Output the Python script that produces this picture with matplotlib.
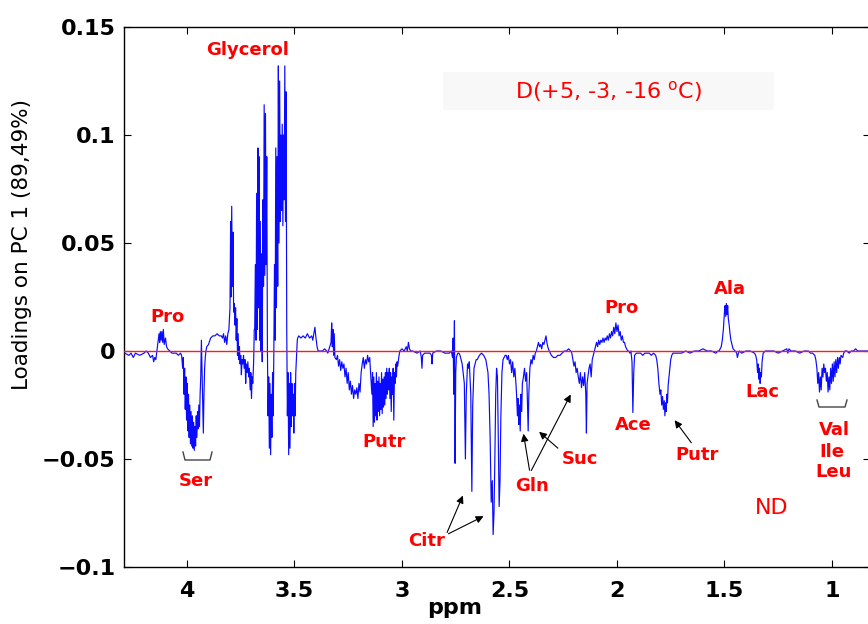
import matplotlib
matplotlib.use("Agg")
import matplotlib.pyplot as plt
from matplotlib.lines import Line2D
from matplotlib.patches import Rectangle, FancyArrowPatch

# ---------------- data (ppm, loading on PC1) ----------------
seg_baseline_pro = [(4.29, -0.001), (4.27, -0.002), (4.26, -0.001), (4.25, -0.003), (4.24, -0.001),
                    (4.22, -0.002), (4.20, -0.001), (4.19, 0.000), (4.18, -0.001), (4.17, -0.003),
                    (4.16, -0.002), (4.155, -0.005), (4.15, -0.003), (4.145, -0.004), (4.14, 0.000),
                    (4.135, 0.004), (4.13, 0.008), (4.127, 0.004), (4.124, 0.009), (4.12, 0.005),
                    (4.117, 0.009), (4.113, 0.004), (4.11, 0.010), (4.106, 0.003), (4.10, 0.006),
                    (4.095, 0.002), (4.09, 0.001), (4.08, 0.000), (4.07, -0.001), (4.06, -0.001),
                    (4.05, -0.001), (4.04, -0.002), (4.03, -0.001), (4.025, -0.002)]
seg_ser = [(4.02, -0.008), (4.017, -0.003), (4.014, -0.020), (4.011, -0.008), (4.008, -0.027),
           (4.005, -0.012), (4.002, -0.032), (3.999, -0.015), (3.996, -0.037), (3.993, -0.020),
           (3.990, -0.040), (3.987, -0.025), (3.984, -0.043), (3.981, -0.028), (3.978, -0.044),
           (3.975, -0.030), (3.972, -0.045), (3.969, -0.033), (3.966, -0.046), (3.963, -0.035),
           (3.960, -0.044), (3.957, -0.030), (3.954, -0.040), (3.951, -0.028), (3.948, -0.036),
           (3.945, -0.025), (3.942, -0.035), (3.939, -0.020), (3.936, -0.012), (3.933, 0.005),
           (3.930, -0.010), (3.927, -0.025), (3.924, -0.038), (3.921, -0.020), (3.918, -0.008),
           (3.915, -0.003), (3.912, 0.000), (3.908, 0.002)]
seg_plateau1 = [(3.90, 0.003), (3.89, 0.006), (3.88, 0.007), (3.87, 0.007), (3.86, 0.008),
                (3.85, 0.007), (3.84, 0.007), (3.835, 0.006), (3.83, 0.008), (3.825, 0.004),
                (3.82, 0.007), (3.815, 0.003), (3.81, 0.008), (3.805, 0.010)]
seg_379 = [(3.800, 0.020), (3.797, 0.060), (3.795, 0.025), (3.792, 0.067), (3.789, 0.030),
           (3.786, 0.055), (3.783, 0.018), (3.780, 0.022), (3.777, 0.012), (3.774, 0.020),
           (3.771, 0.005), (3.768, 0.015), (3.765, -0.002), (3.762, 0.008), (3.759, -0.004),
           (3.756, 0.002), (3.753, -0.006), (3.750, -0.002), (3.747, -0.011), (3.744, -0.004),
           (3.740, -0.006), (3.737, -0.002), (3.734, -0.008), (3.730, -0.004), (3.727, -0.015),
           (3.724, -0.006), (3.720, -0.010), (3.717, -0.005), (3.713, -0.012), (3.710, -0.008),
           (3.706, -0.018), (3.703, -0.010), (3.700, -0.022), (3.697, -0.012), (3.694, -0.015),
           (3.690, -0.005), (3.687, 0.010)]
seg_glycerol = [(3.685, 0.010), (3.682, 0.040), (3.679, 0.005), (3.676, 0.073), (3.673, 0.010),
                (3.670, 0.094), (3.668, 0.020), (3.665, 0.090), (3.662, 0.005), (3.659, 0.060),
                (3.656, 0.000), (3.653, 0.045), (3.650, -0.005), (3.647, 0.070), (3.644, 0.030),
                (3.641, 0.114), (3.638, 0.035), (3.635, 0.110), (3.632, 0.040), (3.629, 0.090),
                (3.626, 0.002), (3.623, -0.030), (3.620, -0.012), (3.617, -0.045), (3.614, -0.015),
                (3.611, -0.048), (3.608, -0.020), (3.605, -0.040), (3.602, -0.010), (3.599, -0.030),
                (3.596, 0.000), (3.593, 0.040), (3.590, 0.005), (3.587, 0.094), (3.584, 0.020),
                (3.581, 0.090), (3.578, 0.030), (3.575, 0.132), (3.572, 0.050), (3.569, 0.125),
                (3.566, 0.060), (3.563, 0.100), (3.560, 0.065), (3.557, 0.105), (3.554, 0.058),
                (3.551, 0.100), (3.548, 0.070), (3.545, 0.132), (3.542, 0.060), (3.539, 0.120),
                (3.536, 0.010), (3.533, -0.030), (3.530, -0.010), (3.527, -0.048), (3.524, -0.015),
                (3.521, -0.045), (3.518, -0.010), (3.515, -0.035), (3.512, -0.015), (3.509, -0.030),
                (3.506, -0.020), (3.503, -0.038), (3.500, -0.015), (3.497, -0.030), (3.494, -0.010),
                (3.490, -0.002), (3.487, 0.005)]
seg_plateau2 = [(3.485, 0.006), (3.48, 0.007), (3.47, 0.006), (3.46, 0.007), (3.45, 0.006),
                (3.44, 0.008), (3.43, 0.006), (3.42, 0.007), (3.415, 0.005), (3.41, 0.008),
                (3.405, 0.011), (3.40, 0.006), (3.395, 0.002), (3.39, 0.000), (3.38, 0.000),
                (3.37, 0.000), (3.36, 0.001), (3.35, 0.000), (3.345, -0.001), (3.330, 0.004),
                (3.327, 0.013), (3.324, 0.002), (3.321, 0.010), (3.318, -0.002), (3.315, 0.008),
                (3.312, -0.003)]
seg_dip32 = [(3.305, -0.004), (3.30, -0.002), (3.295, -0.007), (3.29, -0.004), (3.285, -0.009),
             (3.28, -0.005), (3.275, -0.008), (3.27, -0.006), (3.265, -0.012), (3.26, -0.008),
             (3.255, -0.015), (3.25, -0.010), (3.245, -0.018), (3.24, -0.014), (3.235, -0.020),
             (3.23, -0.016), (3.225, -0.022), (3.22, -0.018), (3.215, -0.020), (3.21, -0.017),
             (3.205, -0.022), (3.20, -0.015), (3.195, -0.019), (3.19, -0.010), (3.185, -0.006),
             (3.18, -0.003), (3.175, -0.008), (3.17, -0.004), (3.165, -0.006), (3.16, -0.002),
             (3.155, -0.005), (3.15, -0.003), (3.145, -0.012)]
seg_putr1 = [(3.140, -0.020), (3.137, -0.010), (3.134, -0.035), (3.131, -0.012), (3.128, -0.033),
             (3.125, -0.015), (3.122, -0.030), (3.119, -0.010), (3.116, -0.032), (3.113, -0.014),
             (3.110, -0.028), (3.107, -0.012), (3.104, -0.030), (3.101, -0.015), (3.098, -0.027),
             (3.095, -0.010), (3.092, -0.029), (3.089, -0.013), (3.086, -0.026), (3.083, -0.012),
             (3.080, -0.025), (3.077, -0.010), (3.074, -0.022), (3.071, -0.008), (3.068, -0.020),
             (3.065, -0.010), (3.062, -0.018), (3.059, -0.008), (3.056, -0.022), (3.053, -0.010),
             (3.050, -0.028), (3.047, -0.012), (3.044, -0.020), (3.041, -0.008), (3.038, -0.032),
             (3.035, -0.010), (3.032, -0.015), (3.029, -0.006), (3.026, -0.012), (3.023, -0.005),
             (3.020, -0.007), (3.015, -0.003), (3.010, 0.000)]
seg_baseline2 = [(3.00, 0.001), (2.99, 0.000), (2.98, 0.002), (2.975, 0.000), (2.97, 0.004),
                 (2.965, 0.001), (2.96, 0.000), (2.95, 0.000), (2.93, -0.001), (2.915, 0.000),
                 (2.910, -0.003), (2.907, -0.008), (2.904, -0.002), (2.895, -0.001), (2.88, -0.001),
                 (2.87, -0.001), (2.863, -0.002), (2.860, -0.006), (2.857, -0.001), (2.84, 0.000),
                 (2.82, 0.000), (2.80, -0.001), (2.78, -0.001), (2.77, 0.000)]
seg_citr = [(2.765, -0.003), (2.762, 0.006), (2.759, -0.020), (2.756, 0.014), (2.753, -0.052),
            (2.750, -0.010), (2.747, -0.003), (2.744, -0.002), (2.740, -0.001), (2.735, -0.001),
            (2.730, -0.002), (2.725, -0.004), (2.720, -0.006), (2.710, -0.015), (2.705, -0.050),
            (2.701, -0.020), (2.695, -0.006), (2.690, -0.008), (2.687, -0.005), (2.680, -0.020),
            (2.675, -0.065), (2.671, -0.025), (2.665, -0.008), (2.660, -0.006), (2.655, -0.004),
            (2.650, -0.004), (2.640, -0.002), (2.630, -0.001), (2.620, -0.002), (2.610, -0.004),
            (2.600, -0.010), (2.595, -0.020), (2.590, -0.040), (2.585, -0.070), (2.580, -0.060),
            (2.576, -0.085), (2.572, -0.075), (2.568, -0.050), (2.564, -0.020), (2.560, -0.008),
            (2.556, -0.012), (2.552, -0.040), (2.548, -0.072), (2.544, -0.060), (2.540, -0.030),
            (2.535, -0.010), (2.530, -0.004), (2.525, -0.003), (2.520, -0.002)]
seg_gln = [(2.515, -0.002), (2.510, -0.004), (2.505, -0.002), (2.500, -0.006), (2.495, -0.004),
           (2.490, -0.010), (2.485, -0.005), (2.480, -0.012), (2.475, -0.008), (2.470, -0.015),
           (2.467, -0.020), (2.463, -0.030), (2.460, -0.022), (2.457, -0.034), (2.454, -0.025),
           (2.450, -0.037), (2.447, -0.020), (2.443, -0.028), (2.440, -0.015), (2.435, -0.012),
           (2.430, -0.008), (2.425, -0.014), (2.420, -0.010), (2.416, -0.025), (2.413, -0.037),
           (2.410, -0.020), (2.405, -0.008), (2.400, -0.004), (2.395, -0.006), (2.390, -0.002),
           (2.385, -0.004), (2.380, -0.001), (2.375, 0.000)]
seg_suc = [(2.370, 0.002), (2.365, 0.004), (2.360, 0.002), (2.355, 0.003), (2.350, 0.001),
           (2.345, 0.004), (2.340, 0.003), (2.335, 0.005), (2.330, 0.007), (2.326, 0.004),
           (2.322, 0.002), (2.315, 0.000), (2.305, -0.002), (2.295, -0.003), (2.285, -0.003),
           (2.275, -0.002), (2.265, -0.002), (2.255, -0.001), (2.245, 0.000), (2.235, 0.000),
           (2.225, 0.001), (2.215, 0.000), (2.21, -0.001), (2.205, -0.004), (2.200, -0.007),
           (2.195, -0.005), (2.190, -0.010), (2.185, -0.008), (2.180, -0.012), (2.175, -0.015),
           (2.170, -0.010), (2.165, -0.017), (2.160, -0.012), (2.155, -0.016), (2.150, -0.010),
           (2.145, -0.020), (2.142, -0.038), (2.139, -0.015), (2.135, -0.012), (2.130, -0.008),
           (2.125, -0.006), (2.120, -0.012), (2.115, -0.004), (2.110, -0.002), (2.105, 0.000)]
seg_pro_ace = [(2.100, 0.002), (2.095, 0.004), (2.090, 0.002), (2.085, 0.005), (2.080, 0.003),
               (2.075, 0.005), (2.070, 0.004), (2.065, 0.006), (2.060, 0.004), (2.055, 0.006),
               (2.050, 0.005), (2.045, 0.007), (2.040, 0.005), (2.035, 0.008), (2.030, 0.006),
               (2.025, 0.009), (2.020, 0.007), (2.015, 0.011), (2.010, 0.008), (2.005, 0.013),
               (2.000, 0.009), (1.995, 0.012), (1.990, 0.007), (1.985, 0.009), (1.980, 0.005),
               (1.975, 0.007), (1.970, 0.004), (1.965, 0.004), (1.960, 0.002), (1.955, 0.001),
               (1.950, 0.000), (1.945, 0.000), (1.940, -0.001), (1.935, 0.000), (1.930, -0.005),
               (1.926, -0.0285), (1.922, -0.010), (1.918, -0.002), (1.910, -0.001), (1.90, -0.001),
               (1.89, -0.001), (1.88, -0.002), (1.87, -0.001), (1.86, -0.001), (1.85, -0.001),
               (1.84, -0.002), (1.83, -0.001), (1.82, -0.002), (1.815, -0.004)]
seg_putr2 = [(1.810, -0.008), (1.805, -0.015), (1.800, -0.020), (1.796, -0.018), (1.792, -0.025),
             (1.788, -0.021), (1.784, -0.027), (1.780, -0.023), (1.777, -0.030), (1.774, -0.024),
             (1.771, -0.028), (1.768, -0.020), (1.765, -0.024), (1.762, -0.016), (1.758, -0.012),
             (1.754, -0.008), (1.750, -0.004), (1.745, -0.002), (1.74, -0.001), (1.72, -0.001),
             (1.70, -0.001), (1.68, 0.000), (1.66, -0.001), (1.64, 0.000), (1.62, 0.000),
             (1.60, 0.001), (1.58, 0.000), (1.56, 0.000), (1.54, -0.001), (1.53, 0.000)]
seg_ala_lac = [(1.525, 0.000), (1.520, 0.001), (1.515, 0.002), (1.510, 0.005), (1.505, 0.010),
               (1.500, 0.018), (1.497, 0.021), (1.494, 0.016), (1.491, 0.022), (1.488, 0.017),
               (1.485, 0.021), (1.482, 0.015), (1.478, 0.012), (1.474, 0.008), (1.470, 0.005),
               (1.465, 0.003), (1.460, 0.001), (1.450, 0.000), (1.443, -0.001), (1.440, -0.003),
               (1.435, -0.001), (1.43, 0.000), (1.42, -0.001), (1.40, 0.000), (1.38, 0.000),
               (1.36, -0.001), (1.355, -0.002), (1.350, -0.004), (1.346, -0.010), (1.343, -0.006),
               (1.340, -0.013), (1.337, -0.008), (1.334, -0.015), (1.331, -0.010), (1.328, -0.012),
               (1.325, -0.005), (1.320, -0.001), (1.31, 0.000), (1.29, 0.000), (1.27, 0.000),
               (1.25, -0.001), (1.23, 0.000), (1.21, 0.001), (1.205, -0.001), (1.20, 0.001),
               (1.19, 0.000), (1.17, 0.000), (1.15, -0.001), (1.13, 0.000), (1.11, 0.000),
               (1.10, -0.001), (1.09, -0.001)]
seg_val_ile_leu = [(1.080, -0.002), (1.075, -0.004), (1.070, -0.008), (1.066, -0.015), (1.062, -0.010),
                   (1.058, -0.019), (1.054, -0.012), (1.050, -0.018), (1.046, -0.008), (1.042, -0.012),
                   (1.038, -0.006), (1.034, -0.010), (1.030, -0.008), (1.026, -0.014), (1.022, -0.010),
                   (1.018, -0.019), (1.014, -0.012), (1.010, -0.018), (1.006, -0.008), (1.002, -0.015),
                   (0.998, -0.006), (0.994, -0.014), (0.990, -0.005), (0.986, -0.012), (0.982, -0.004),
                   (0.978, -0.010), (0.974, -0.003), (0.970, -0.008), (0.966, -0.003), (0.962, -0.006),
                   (0.958, -0.002), (0.950, -0.003), (0.945, -0.001), (0.94, 0.000), (0.93, 0.000),
                   (0.92, -0.001), (0.91, 0.000), (0.90, 0.000), (0.89, 0.001), (0.88, 0.000),
                   (0.86, 0.000), (0.84, 0.000), (0.82, 0.000)]

x_ticks = [4, 3.5, 3, 2.5, 2, 1.5, 1]
x_ticklabels = ["4", "3.5", "3", "2.5", "2", "1.5", "1"]
y_ticks = [-0.1, -0.05, 0, 0.05, 0.1, 0.15]
y_ticklabels = ["\u22120.1", "\u22120.05", "0", "0.05", "0.1", "0.15"]

segments = [seg_baseline_pro, seg_ser, seg_plateau1, seg_379, seg_glycerol, seg_plateau2,
            seg_dip32, seg_putr1, seg_baseline2, seg_citr, seg_gln, seg_suc, seg_pro_ace,
            seg_putr2, seg_ala_lac, seg_val_ile_leu]
points = [p for seg in segments for p in seg]
ppm = [p[0] for p in points]
loading = [p[1] for p in points]

# ---------------- figure ----------------
W, H = 868, 624
fig = plt.figure(figsize=(W / 100, H / 100), dpi=100)
fig.patch.set_facecolor("white")


def fx(px):
    return px / W


def fy(py):
    return 1 - py / H


ax = fig.add_axes([fx(124), fy(567), fx(870) - fx(124), fy(27) - fy(567)])
ax.plot(ppm, loading, color="#0a0aff", lw=0.85, zorder=3)
ax.axhline(0, color="#ff1a1a", lw=1.0, zorder=4)
ax.set_xlim(4.293, 0.823)
ax.set_ylim(-0.1, 0.15)
ax.set_xticks(x_ticks)
ax.set_xticklabels(x_ticklabels, fontsize=16, fontweight="bold")
ax.set_yticks(y_ticks)
ax.set_yticklabels(y_ticklabels, fontsize=16, fontweight="bold")
ax.tick_params(axis="both", direction="in", top=True, right=True, length=5, width=0.8)
ax.tick_params(axis="x", pad=10)
ax.tick_params(axis="y", pad=6)
for s in ax.spines.values():
    s.set_linewidth(1.0)

fig.text(fx(22), fy(245), "Loadings on PC 1 (89,49%)", rotation=90, ha="center", va="center",
         fontsize=15.5)
fig.text(fx(455), fy(608), "ppm", ha="center", va="center", fontsize=16, fontweight="bold")

# title box
fig.patches.append(Rectangle((fx(443), fy(110)), fx(774) - fx(443), fy(72) - fy(110),
                             transform=fig.transFigure, facecolor="#f8f8f8", edgecolor="none",
                             zorder=1))
fig.text(fx(609), fy(92), r"D(+5, -3, -16 $^{\mathrm{o}}$C)", color="red", ha="center",
         va="center", fontsize=16, zorder=5)

red = "#ff0000"
labels = [("Glycerol", 248, 50), ("Pro", 167, 317), ("Ser", 196, 481), ("Putr", 384, 442),
          ("Citr", 427, 541), ("Gln", 532, 486), ("Suc", 580, 459), ("Pro", 621, 308),
          ("Ace", 633, 425), ("Putr", 697, 455), ("Ala", 730, 289), ("Lac", 762, 392),
          ("Val", 834, 430), ("Ile", 832, 452), ("Leu", 834, 472)]
for t, x, y in labels:
    fig.text(fx(x), fy(y), t, color=red, ha="center", va="center", fontsize=13,
             fontweight="bold", zorder=5)
fig.text(fx(772), fy(508), "ND", color=red, ha="center", va="center", fontsize=16, zorder=5)

arrows = [((446, 535), (464, 493)), ((446, 535), (486, 515)),
          ((530, 473), (523, 431)), ((530, 473), (572, 392)),
          ((560, 450), (537, 430)), ((693, 445), (673, 418))]
for (tx, ty), (hx, hy) in arrows:
    fig.add_artist(FancyArrowPatch(
        (fx(tx), fy(ty)), (fx(hx), fy(hy)), transform=fig.transFigure,
        arrowstyle="-|>", mutation_scale=11, color="black", lw=0.8, zorder=6))

for x0, x1, ytop, ybot in [(183, 212, 452, 460), (817, 847, 400, 407)]:
    fig.add_artist(Line2D([fx(x0), fx(x0 + 2), fx(x1 - 2), fx(x1)],
                          [fy(ytop), fy(ybot), fy(ybot), fy(ytop)],
                          transform=fig.transFigure, color="#444444", lw=1.0, zorder=6))

fig.savefig("out.png", dpi=100)
